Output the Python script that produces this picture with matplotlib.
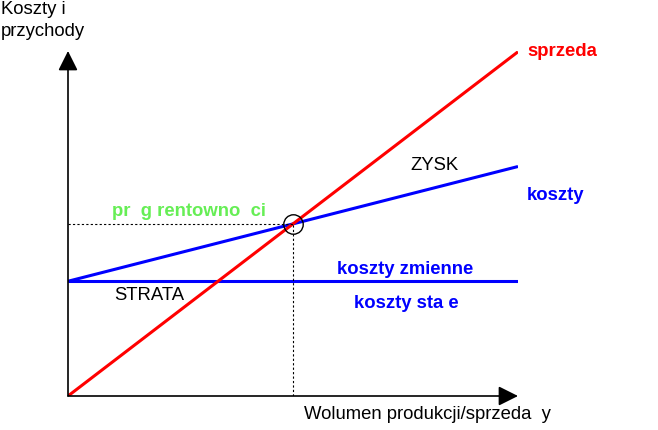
import matplotlib.pyplot as plt

# DATA

volume = [0, 10]
sales = [0, 7.65]
fixed_costs = [2.55, 2.55]
total_costs = [2.55, 5.1]

# SETTINGS

fig_w, fig_h = 658, 431
font = 'Liberation Sans'
fs = 13.3
blue = '#0000ff'
red = '#ff0000'
green = '#66ee55'


def px(x, y):
    # pixel position -> figure fraction
    return x / fig_w, 1 - y / fig_h


fig = plt.figure(figsize=(fig_w / 100, fig_h / 100), dpi=100)
ax = fig.add_axes([68 / fig_w, 34 / fig_h, 450 / fig_w, 345 / fig_h])
ax.set_xlim(0, 10)
ax.set_ylim(0, 7.667)
ax.axis('off')

# axes with arrows
arrow = dict(arrowstyle='-|>,head_length=0.6,head_width=0.3', color='black',
             lw=1.2, mutation_scale=20, shrinkA=0, shrinkB=0)
ax.annotate('', xy=(0, 7.667), xytext=(0, 0), arrowprops=arrow, annotation_clip=False)
ax.annotate('', xy=(10, 0), xytext=(0, 0), arrowprops=arrow, annotation_clip=False)

# lines
ax.plot(volume, fixed_costs, color=blue, lw=2.2, solid_capstyle='butt')
ax.plot(volume, total_costs, color=blue, lw=2.2, solid_capstyle='butt')
ax.plot(volume, sales, color=red, lw=2.2, solid_capstyle='butt')

# break-even point
price = (sales[1] - sales[0]) / (volume[1] - volume[0])
unit_cost = (total_costs[1] - total_costs[0]) / (volume[1] - volume[0])
be_x = fixed_costs[0] / (price - unit_cost)
be_y = price * be_x
ax.plot([0, be_x], [be_y, be_y], color='black', lw=0.8, linestyle=(0, (2, 2)))
ax.plot([be_x, be_x], [0, be_y], color='black', lw=0.8, linestyle=(0, (2, 2)))
ax.plot(be_x, be_y, 'o', ms=14, mfc='none', mec='black', mew=1)

# labels
fig.text(*px(1, 1), 'Koszty i', fontsize=fs, family=font, va='top', ha='left')
fig.text(*px(1, 23), 'przychody', fontsize=fs, family=font, va='top', ha='left')
fig.text(*px(434, 166), 'ZYSK', fontsize=fs, family=font, ha='center', va='center')
fig.text(*px(149, 296), 'STRATA', fontsize=fs, family=font, ha='center', va='center')
fig.text(*px(304, 415), 'Wolumen produkcji/sprzeda  y', fontsize=fs, family=font,
         ha='left', va='center')

fig.text(*px(527, 51), 'sprzeda', fontsize=fs, family=font, weight='bold',
         color=red, ha='left', va='center')
fig.text(*px(527, 195), 'koszty', fontsize=fs, family=font, weight='bold',
         color=blue, ha='left', va='center')
fig.text(*px(405, 269), 'koszty zmienne', fontsize=fs, family=font, weight='bold',
         color=blue, ha='center', va='center')
fig.text(*px(406, 303), 'koszty sta e', fontsize=fs, family=font, weight='bold',
         color=blue, ha='center', va='center')
fig.text(*px(112, 212), 'pr  g rentowno  ci', fontsize=fs, family=font, weight='bold',
         color=green, ha='left', va='center')

fig.savefig('out.png', dpi=100)
